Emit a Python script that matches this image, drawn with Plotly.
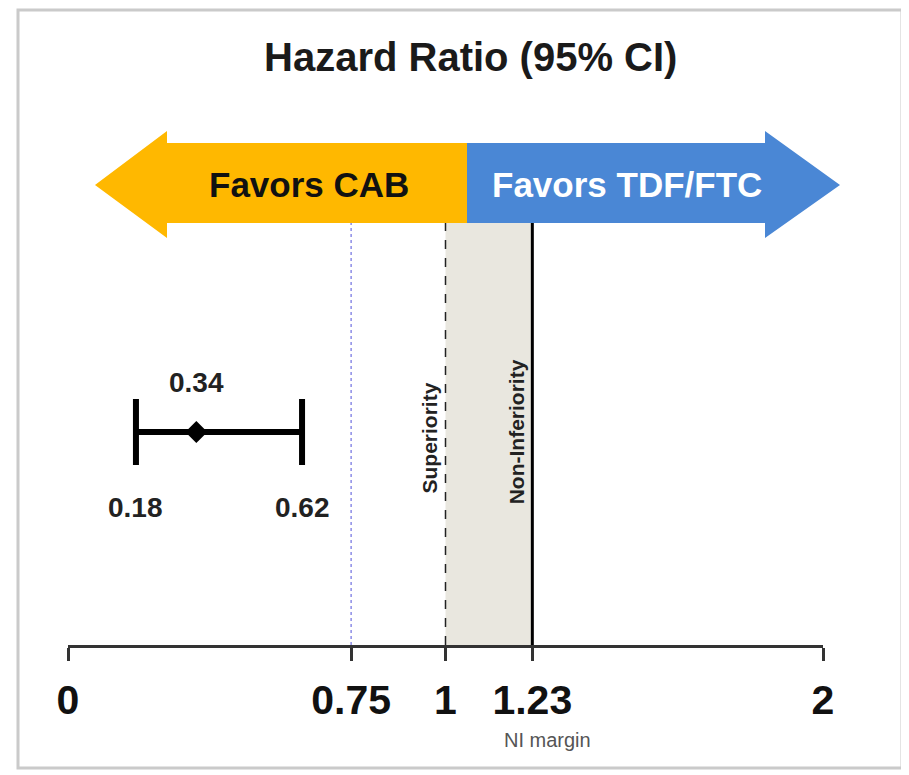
import plotly.graph_objects as go

# ---- data ----
hr_point = 0.34
hr_low = 0.18
hr_high = 0.62
tick_values = [0, 0.75, 1, 1.23, 2]
tick_labels = ["0", "0.75", "1", "1.23", "2"]
margin_line = 0.75      # dotted reference
superiority_line = 1    # dashed reference
ni_margin = 1.23        # non-inferiority margin

OFF = 8                       # page body margin of the exported html
W, H = 909 - OFF, 775 - OFF
L, R_EDGE, AX_Y = 68 - OFF, 823 - OFF, 645 - OFF   # plot-area pixels (figure coords)
FONT = "Liberation Sans, Arial, sans-serif"


def PX(px):
    """target window pixel -> paper x"""
    return (px - OFF - L) / (R_EDGE - L)


def PY(py):
    """target window pixel -> paper y"""
    return (AX_Y - (py - OFF)) / AX_Y


def path(points):
    return "M " + " L ".join(f"{PX(x):.5f},{PY(y):.5f}" for x, y in points) + " Z"


fig = go.Figure()

fig.add_trace(go.Scatter(
    x=[hr_point], y=[PY(432) * AX_Y], mode="markers",
    marker=dict(symbol="diamond", size=17, color="black"),
    error_x=dict(type="data", symmetric=False,
                 array=[hr_high - hr_point], arrayminus=[hr_point - hr_low],
                 thickness=6, width=33, color="black"),
    showlegend=False, hoverinfo="skip",
))

shapes = []
# frame
shapes.append(dict(type="rect", xref="paper", yref="paper",
                   x0=PX(18), x1=PX(902), y0=PY(10), y1=PY(768),
                   line=dict(color="#cacaca", width=3), fillcolor="rgba(0,0,0,0)"))
# shaded NI band
shapes.append(dict(type="rect", xref="x", yref="paper", x0=superiority_line, x1=ni_margin,
                   y0=PY(645), y1=PY(222), fillcolor="#E9E7DF", line=dict(width=0), layer="below"))
# arrows
shapes.append(dict(type="path", xref="paper", yref="paper",
                   path=path([(467, 143), (167, 143), (167, 131), (95, 185), (167, 238), (167, 223), (467, 223)]),
                   fillcolor="#FFB800", line=dict(width=0)))
shapes.append(dict(type="path", xref="paper", yref="paper",
                   path=path([(467, 143), (765, 143), (765, 131), (840, 185), (765, 238), (765, 223), (467, 223)]),
                   fillcolor="#4A87D5", line=dict(width=0)))
# reference lines
shapes.append(dict(type="line", xref="x", yref="paper", x0=margin_line, x1=margin_line,
                   y0=PY(645), y1=PY(223), line=dict(color="#8C8CE6", width=1.5, dash="dot")))
shapes.append(dict(type="line", xref="x", yref="paper", x0=superiority_line, x1=superiority_line,
                   y0=PY(645), y1=PY(223), line=dict(color="#222", width=1.5, dash="dash")))
shapes.append(dict(type="line", xref="x", yref="paper", x0=ni_margin, x1=ni_margin,
                   y0=PY(645), y1=PY(223), line=dict(color="black", width=3)))


def ann(text, x, y, xref="paper", size=20, color="#222", bold=True, **kw):
    return dict(text=text, xref=xref, yref="paper", x=x, y=y, showarrow=False,
                xanchor="center", yanchor="middle",
                font=dict(family=FONT, size=size, color=color, weight="bold" if bold else "normal"),
                **kw)


annotations = [
    ann("Hazard Ratio (95% CI)", PX(470), PY(57), size=40, color="#1a1a1a"),
    ann("Favors CAB", PX(309), PY(184), size=35, color="#111"),
    ann("Favors TDF/FTC", PX(627), PY(184), size=35, color="white"),
    ann(f"{hr_point:.2f}", hr_point, PY(382), xref="x", size=28),
    ann(f"{hr_low:.2f}", hr_low, PY(507), xref="x", size=28),
    ann(f"{hr_high:.2f}", hr_high, PY(507), xref="x", size=28),
    ann("Superiority", superiority_line, PY(438), xref="x", size=21, xshift=-17, textangle=-90),
    ann("Non-Inferiority", ni_margin, PY(432), xref="x", size=21, xshift=-15, textangle=-90),
    ann("NI margin", ni_margin, PY(740), xref="x", size=20, color="#555", bold=False, xshift=15),
]

fig.update_layout(
    width=W, height=H,
    margin=dict(l=L, r=W - R_EDGE, t=0, b=H - AX_Y, pad=0),
    paper_bgcolor="white", plot_bgcolor="white",
    shapes=shapes, annotations=annotations,
    xaxis=dict(range=[0, 2], tickvals=tick_values, ticktext=tick_labels,
               showgrid=False, zeroline=False, showline=True, linecolor="#333", linewidth=2.5,
               ticks="outside", ticklen=13, tickwidth=2.5, tickcolor="#333",
               ticklabelstandoff=4,
               tickfont=dict(family=FONT, size=41, color="#111", weight="bold")),
    yaxis=dict(range=[0, AX_Y], visible=False, fixedrange=True),
    showlegend=False,
)

fig.write_html("out.html")
